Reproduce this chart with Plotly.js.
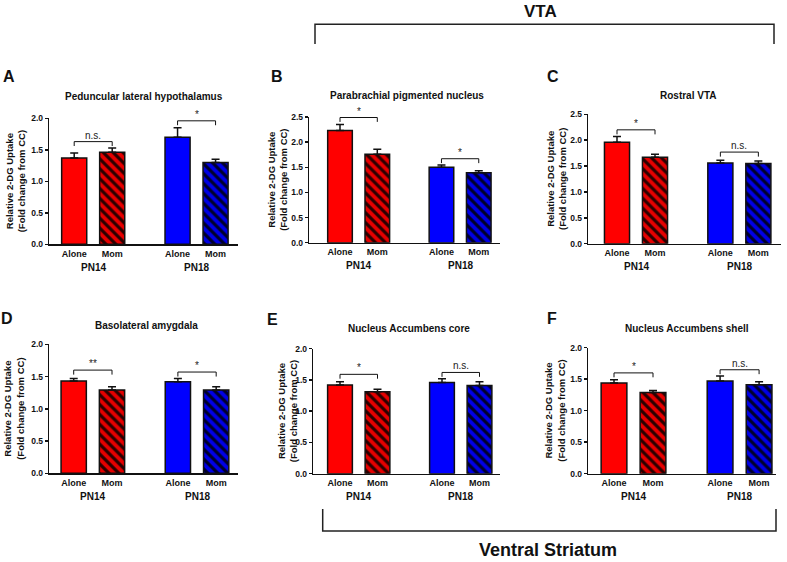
<!DOCTYPE html>
<html>
<head>
<meta charset="utf-8">
<script src="https://cdn.plot.ly/plotly-3.0.1.min.js"></script>
<style>html,body{margin:0;padding:0;background:#fff;}#chart{width:787px;height:562px;}</style>
</head>
<body>
<div id="chart"></div>
<script>
// ---------------- DATA ----------------
const categories = ['Alone', 'Mom', 'Alone', 'Mom'];
const groups = ['PN14', 'PN18'];
const panelLetters = ['A', 'B', 'C', 'D', 'E', 'F'];
const panelTitles = ['Peduncular lateral hypothalamus', 'Parabrachial pigmented nucleus', 'Rostral VTA',
                     'Basolateral amygdala', 'Nucleus Accumbens core', 'Nucleus Accumbens shell'];
const yTitle = 'Relative 2-DG Uptake<br>(Fold change from CC)';
const regionTop = 'VTA';
const regionBottom = 'Ventral Striatum';

// mean values: PN14 Alone, PN14 Mom, PN18 Alone, PN18 Mom
const meanA = [1.37, 1.46, 1.70, 1.30];
const meanB = [2.23, 1.76, 1.50, 1.39];
const meanC = [1.96, 1.67, 1.56, 1.55];
const meanD = [1.43, 1.29, 1.42, 1.29];
const meanE = [1.42, 1.31, 1.46, 1.41];
const meanF = [1.44, 1.29, 1.47, 1.41];
// SEM (upper error bar)
const semA = [0.08, 0.07, 0.15, 0.05];
const semB = [0.12, 0.10, 0.045, 0.04];
const semC = [0.11, 0.06, 0.05, 0.05];
const semD = [0.04, 0.05, 0.05, 0.05];
const semE = [0.05, 0.04, 0.06, 0.06];
const semF = [0.05, 0.03, 0.08, 0.05];
// significance labels and bracket heights: [PN14, PN18]
const sigA = ['n.s.', '*'];  const sigYA = [1.63, 1.96];
const sigB = ['*', '*'];     const sigYB = [2.49, 1.67];
const sigC = ['*', 'n.s.'];  const sigYC = [2.20, 1.77];
const sigD = ['**', '*'];    const sigYD = [1.60, 1.57];
const sigE = ['*', 'n.s.'];  const sigYE = [1.59, 1.62];
const sigF = ['*', 'n.s.'];  const sigYF = [1.60, 1.65];
const yMax = [2.0, 2.5, 2.5, 2.0, 2.0, 2.0];

const means = [meanA, meanB, meanC, meanD, meanE, meanF];
const sems = [semA, semB, semC, semD, semE, semF];
const sigs = [sigA, sigB, sigC, sigD, sigE, sigF];
const sigYs = [sigYA, sigYB, sigYC, sigYD, sigYE, sigYF];

// ---------------- LAYOUT (pixels) ----------------
const W = 787, H = 562;
const X = p => p / W;
const Y = p => 1 - p / H;
const FONT = "'Liberation Sans Narrow', 'Arial Narrow', 'Liberation Sans', Arial, sans-serif";
const FONTW = "'Liberation Sans', Arial, sans-serif";
const xpos = [0, 1, 2.72, 3.72];
const panels = [
  {x0: 49.3, x1: 238, c0: 74.2, s: 38,  yT: 118.3, yB: 244.3, tx: 143.5, ty: 97,  ytx: 15,  lx: 9,   ly: 76},
  {x0: 309.3, x1: 500, c0: 340, s: 37.3, yT: 117,  yB: 242.7, tx: 407,  ty: 95,  ytx: 278, lx: 277, ly: 76},
  {x0: 588.3, x1: 781, c0: 617, s: 38,  yT: 114.3, yB: 243.7, tx: 688,  ty: 95,  ytx: 556, lx: 553, ly: 76},
  {x0: 49.3, x1: 238, c0: 73.7, s: 38.3, yT: 344.3, yB: 473.3, tx: 146.5, ty: 325, ytx: 14,  lx: 7,   ly: 318},
  {x0: 313.3, x1: 500, c0: 340, s: 37.5, yT: 348.7, yB: 473.7, tx: 409,  ty: 329, ytx: 287, lx: 272, ly: 319},
  {x0: 588.3, x1: 776, c0: 614, s: 39,  yT: 347.7, yB: 473.7, tx: 687,  ty: 328, ytx: 555, lx: 552, ly: 318}
];

const barColors = ['#ff0000', '#e60000', '#0000ff', '#0000e6'];
const patShapes = ['', '\\', '', '\\'];
const patFg = ['#000000', '#2a0000', '#000000', '#00002a'];

const traces = [];
const layout = {
  width: W, height: H,
  margin: {l: 0, r: 0, t: 0, b: 0},
  paper_bgcolor: '#fff', plot_bgcolor: 'rgba(0,0,0,0)',
  showlegend: false,
  font: {family: FONT, color: '#111'},
  shapes: [], annotations: []
};

panels.forEach((p, i) => {
  const n = i === 0 ? '' : String(i + 1);
  const xa = 'x' + n, ya = 'y' + n;
  for (let j = 0; j < 4; j++) {
    const tr = {
      type: 'bar', x: [xpos[j]], y: [means[i][j]], width: 0.66, xaxis: xa, yaxis: ya,
      marker: {color: barColors[j], line: {color: '#111', width: 1.5}},
      error_y: {type: 'data', symmetric: false, array: [sems[i][j]], arrayminus: [0],
                color: '#111', thickness: 1.5, width: 4},
      hoverinfo: 'none'
    };
    if (patShapes[j]) {
      tr.marker.pattern = {shape: patShapes[j], fgcolor: patFg[j], fgopacity: 1, size: 7, solidity: 0.45, fillmode: 'overlay'};
    }
    traces.push(tr);
  }
  layout['xaxis' + n] = {
    domain: [X(p.x0), X(p.x1)], anchor: ya,
    range: [(p.x0 - p.c0) / p.s, (p.x1 - p.c0) / p.s],
    showline: true, linecolor: '#111', linewidth: 1.5, showgrid: false, zeroline: false,
    ticks: '', tickvals: xpos, ticktext: categories,
    tickfont: {family: FONT, size: 9, weight: 'bold', color: '#111'}, fixedrange: true
  };
  layout['yaxis' + n] = {
    domain: [Y(p.yB), Y(p.yT)], anchor: xa,
    range: [0, yMax[i]], dtick: 0.5, tickformat: '.1f',
    showline: true, linecolor: '#111', linewidth: 1.5, showgrid: false, zeroline: false,
    ticks: 'outside', ticklen: 3, tickwidth: 1.5, tickcolor: '#111',
    tickfont: {family: FONT, size: 8.5, weight: 'bold', color: '#111'}, fixedrange: true
  };
  groups.forEach((g, k) => {
    layout.annotations.push({
      xref: xa, yref: 'paper', x: (xpos[2 * k] + xpos[2 * k + 1]) / 2, y: Y(p.yB + 23),
      text: g, showarrow: false, yanchor: 'middle', xanchor: 'center',
      font: {family: FONT, size: 10, weight: 'bold', color: '#111'}
    });
    const sy = sigYs[i][k], t = 0.035 * yMax[i];
    const xl = xpos[2 * k], xr = xpos[2 * k + 1];
    layout.shapes.push({
      type: 'path', xref: xa, yref: ya,
      path: `M ${xl},${sy - t} L ${xl},${sy} L ${xr},${sy} L ${xr},${sy - t}`,
      line: {color: '#111', width: 1}
    });
    layout.annotations.push({
      xref: xa, yref: ya, x: (xl + xr) / 2, y: sy, yanchor: 'bottom', xanchor: 'center',
      text: sigs[i][k], showarrow: false, yshift: -1,
      font: {family: FONTW, size: 10, color: '#222'}
    });
  });
  layout.annotations.push({
    xref: 'paper', yref: 'paper', x: X(p.tx), y: Y(p.ty), xanchor: 'center', yanchor: 'middle',
    text: panelTitles[i], showarrow: false,
    font: {family: FONT, size: 10, weight: 'bold', color: '#111'}
  });
  layout.annotations.push({
    xref: 'paper', yref: 'paper', x: X(p.ytx), y: Y((p.yT + p.yB) / 2), xanchor: 'center', yanchor: 'middle',
    text: yTitle, showarrow: false, textangle: -90,
    font: {family: FONT, size: 9.5, weight: 'bold', color: '#111'}
  });
  layout.annotations.push({
    xref: 'paper', yref: 'paper', x: X(p.lx), y: Y(p.ly), xanchor: 'center', yanchor: 'middle',
    text: panelLetters[i], showarrow: false,
    font: {family: FONTW, size: 16, weight: 'bold', color: '#111'}
  });
});

layout.shapes.push({
  type: 'path', xref: 'paper', yref: 'paper',
  path: `M ${X(315)},${Y(44)} L ${X(315)},${Y(24.3)} L ${X(774)},${Y(24.3)} L ${X(774)},${Y(44)}`,
  line: {color: '#222', width: 1.5}
});
layout.shapes.push({
  type: 'path', xref: 'paper', yref: 'paper',
  path: `M ${X(322.7)},${Y(509)} L ${X(322.7)},${Y(531)} L ${X(776)},${Y(531)} L ${X(776)},${Y(509)}`,
  line: {color: '#222', width: 1.5}
});
layout.annotations.push({
  xref: 'paper', yref: 'paper', x: X(540), y: Y(0), xanchor: 'center', yanchor: 'top',
  text: regionTop, showarrow: false, font: {family: FONTW, size: 17, weight: 'bold', color: '#111'}
});
layout.annotations.push({
  xref: 'paper', yref: 'paper', x: X(548), y: Y(562), xanchor: 'center', yanchor: 'bottom',
  text: regionBottom, showarrow: false, font: {family: FONT, size: 18, weight: 'bold', color: '#111'}
});

Plotly.newPlot('chart', traces, layout, {staticPlot: true, displayModeBar: false});
</script>
</body>
</html>
